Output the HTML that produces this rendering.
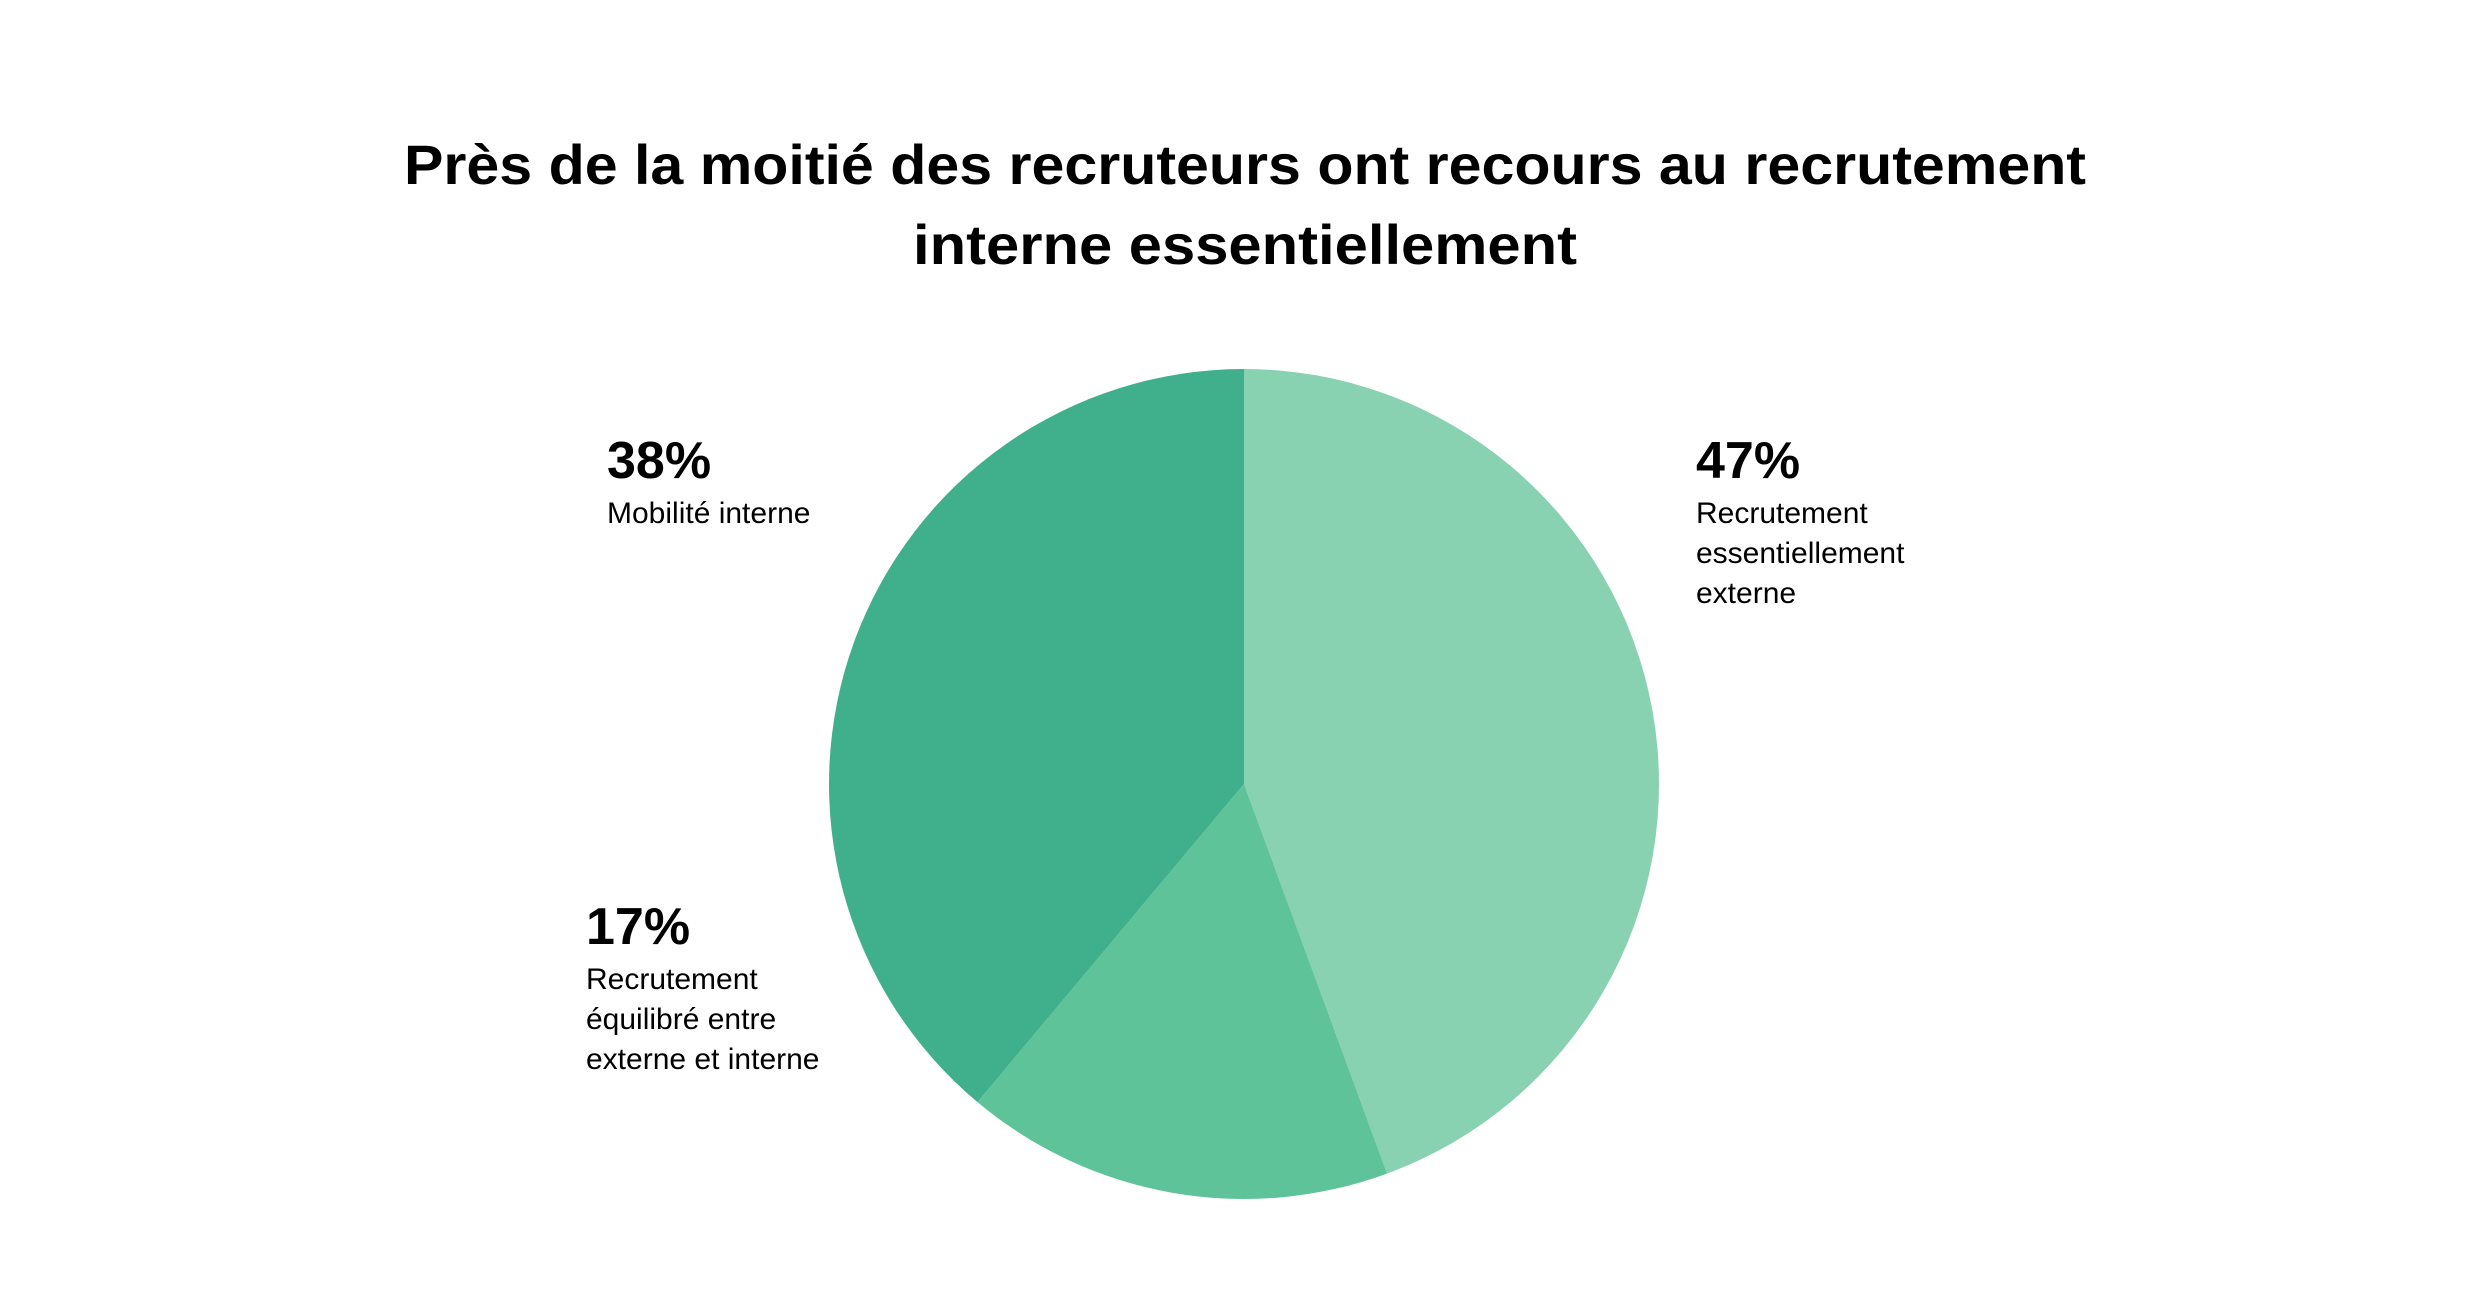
<!DOCTYPE html>
<html><head><meta charset="utf-8"><style>
html,body{margin:0;padding:0;background:#fff}
svg{display:block}
text{font-family:"Liberation Sans",sans-serif;fill:#000}
</style></head><body>
<svg id="chart" width="2490" height="1301" viewBox="0 0 2490 1301" xmlns="http://www.w3.org/2000/svg">
<rect width="2490" height="1301" fill="#fff"/>
<g font-weight="bold">
<text x="1245" y="184" text-anchor="middle" font-size="56" textLength="1682" lengthAdjust="spacingAndGlyphs">Près de la moitié des recruteurs ont recours au recrutement</text>
<text x="1245" y="264" text-anchor="middle" font-size="56" textLength="664" lengthAdjust="spacingAndGlyphs">interne essentiellement</text>
</g>
<g id="slices"></g>
<g>
<text x="1696" y="478" font-size="52" font-weight="bold">47%</text>
<text x="1696" y="523" font-size="30">Recrutement</text>
<text x="1696" y="563" font-size="30">essentiellement</text>
<text x="1696" y="603" font-size="30">externe</text>
</g>
<g>
<text x="607" y="478" font-size="52" font-weight="bold">38%</text>
<text x="607" y="523" font-size="30">Mobilité interne</text>
</g>
<g>
<text x="586" y="944" font-size="52" font-weight="bold">17%</text>
<text x="586" y="989" font-size="30">Recrutement</text>
<text x="586" y="1029" font-size="30">équilibré entre</text>
<text x="586" y="1069" font-size="30">externe et interne</text>
</g>
</svg>
<script>
const categories = ["Recrutement essentiellement externe", "Recrutement équilibré", "Mobilité interne"];
const values = [44.4, 16.7, 38.9];
const colors = ["#88D1B1", "#5EC399", "#40B08C"];
const cx = 1244, cy = 784, r = 415;
const g = document.getElementById('slices');
const total = values.reduce((a, b) => a + b, 0);
function pt(frac) {
  const a = frac * 2 * Math.PI;
  return [cx + r * Math.sin(a), cy - r * Math.cos(a)];
}
let acc = 0;
values.forEach((v, i) => {
  const s = acc / total, e = (acc + v) / total;
  acc += v;
  const p0 = pt(s), p1 = pt(e);
  const large = (e - s) > 0.5 ? 1 : 0;
  const path = document.createElementNS('http://www.w3.org/2000/svg', 'path');
  path.setAttribute('d', `M${cx},${cy} L${p0[0]},${p0[1]} A${r},${r} 0 ${large} 1 ${p1[0]},${p1[1]} Z`);
  path.setAttribute('fill', colors[i]);
  
  
  g.appendChild(path);
});
</script>
</body></html>
